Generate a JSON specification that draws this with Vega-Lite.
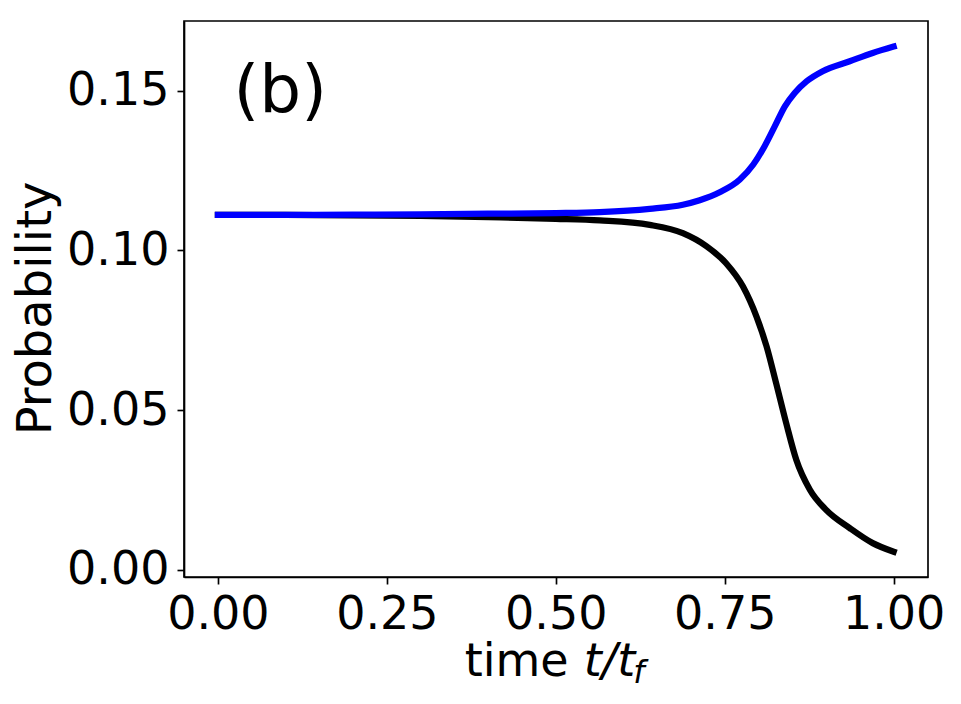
{
  "$schema": "https://vega.github.io/schema/vega-lite/v6.json",
  "autosize": {"type": "none"},
  "padding": {"left": 184, "top": 21, "right": 33, "bottom": 127},
  "width": 744,
  "height": 556,
  "background": "white",
  "config": {
    "view": {"stroke": "black", "strokeWidth": 1.67},
    "font": "DejaVu Sans",
    "axis": {
      "grid": false,
      "domainColor": "black",
      "domainWidth": 1.67,
      "tickColor": "black",
      "tickWidth": 1.67,
      "tickSize": 7,
      "labelFont": "DejaVu Sans",
      "labelFontSize": 46,
      "labelColor": "black",
      "labelPadding": 8,
      "titleFont": "DejaVu Sans",
      "titleFontWeight": "normal",
      "titleColor": "black"
    }
  },
  "datasets": {
    "curves": [
      {"t": 0.0, "p": 0.1111, "s": "black"},
      {"t": 0.1, "p": 0.1111, "s": "black"},
      {"t": 0.2, "p": 0.1110, "s": "black"},
      {"t": 0.3, "p": 0.1108, "s": "black"},
      {"t": 0.4, "p": 0.1104, "s": "black"},
      {"t": 0.5, "p": 0.1099, "s": "black"},
      {"t": 0.565, "p": 0.1094, "s": "black"},
      {"t": 0.639, "p": 0.1080, "s": "black"},
      {"t": 0.688, "p": 0.1054, "s": "black"},
      {"t": 0.723, "p": 0.1013, "s": "black"},
      {"t": 0.752, "p": 0.0960, "s": "black"},
      {"t": 0.777, "p": 0.0887, "s": "black"},
      {"t": 0.797, "p": 0.0793, "s": "black"},
      {"t": 0.812, "p": 0.0699, "s": "black"},
      {"t": 0.826, "p": 0.0585, "s": "black"},
      {"t": 0.841, "p": 0.0459, "s": "black"},
      {"t": 0.856, "p": 0.0344, "s": "black"},
      {"t": 0.876, "p": 0.0251, "s": "black"},
      {"t": 0.900, "p": 0.0188, "s": "black"},
      {"t": 0.935, "p": 0.0131, "s": "black"},
      {"t": 0.969, "p": 0.0084, "s": "black"},
      {"t": 1.0, "p": 0.0057, "s": "black"},
      {"t": 0.0, "p": 0.1111, "s": "blue"},
      {"t": 0.1, "p": 0.1111, "s": "blue"},
      {"t": 0.2, "p": 0.1112, "s": "blue"},
      {"t": 0.3, "p": 0.1113, "s": "blue"},
      {"t": 0.4, "p": 0.1115, "s": "blue"},
      {"t": 0.5, "p": 0.1117, "s": "blue"},
      {"t": 0.565, "p": 0.1120, "s": "blue"},
      {"t": 0.639, "p": 0.1130, "s": "blue"},
      {"t": 0.688, "p": 0.1143, "s": "blue"},
      {"t": 0.713, "p": 0.1157, "s": "blue"},
      {"t": 0.7425, "p": 0.1182, "s": "blue"},
      {"t": 0.772, "p": 0.1221, "s": "blue"},
      {"t": 0.792, "p": 0.1268, "s": "blue"},
      {"t": 0.809, "p": 0.1326, "s": "blue"},
      {"t": 0.824, "p": 0.1388, "s": "blue"},
      {"t": 0.839, "p": 0.1451, "s": "blue"},
      {"t": 0.8535, "p": 0.1493, "s": "blue"},
      {"t": 0.871, "p": 0.1529, "s": "blue"},
      {"t": 0.895, "p": 0.1561, "s": "blue"},
      {"t": 0.935, "p": 0.1592, "s": "blue"},
      {"t": 0.969, "p": 0.1618, "s": "blue"},
      {"t": 1.0, "p": 0.1638, "s": "blue"}
    ],
    "labels": [
      {"label": "(b)", "role": "panel"},
      {"label": "time", "role": "title1"},
      {"label": "t/t", "role": "title2"},
      {"label": "f", "role": "title3"}
    ]
  },
  "layer": [
    {
      "data": {"name": "curves"},
      "transform": [{"filter": "datum.s === 'black'"}],
      "mark": {"type": "line", "color": "#000000", "strokeWidth": 6.25, "strokeCap": "square", "strokeJoin": "round", "interpolate": "monotone"},
      "encoding": {
        "x": {
          "field": "t", "type": "quantitative",
          "scale": {"domain": [-0.0502, 1.0508], "nice": false, "zero": false},
          "axis": {"values": [0, 0.25, 0.5, 0.75, 1], "format": ".2f", "title": null}
        },
        "y": {
          "field": "p", "type": "quantitative",
          "scale": {"domain": [-0.0022, 0.1718], "nice": false, "zero": false},
          "axis": {
            "values": [0, 0.05, 0.1, 0.15], "format": ".2f",
            "title": "Probability", "titleFontSize": 48,
            "titleAngle": -90, "titleBaseline": "alphabetic", "titleAlign": "center",
            "titleX": -134, "titleY": 287
          }
        }
      }
    },
    {
      "data": {"name": "curves"},
      "transform": [{"filter": "datum.s === 'blue'"}],
      "mark": {"type": "line", "color": "#0000ff", "strokeWidth": 6.25, "strokeCap": "square", "strokeJoin": "round", "interpolate": "monotone"},
      "encoding": {
        "x": {"field": "t", "type": "quantitative"},
        "y": {"field": "p", "type": "quantitative"}
      }
    },
    {
      "data": {"name": "labels"},
      "transform": [{"filter": "datum.role === 'panel'"}],
      "mark": {"type": "text", "font": "DejaVu Sans", "fontSize": 66, "align": "left", "baseline": "alphabetic", "color": "black"},
      "encoding": {"text": {"field": "label"}, "x": {"datum": 0.0232, "type": "quantitative"}, "y": {"datum": 0.1434, "type": "quantitative"}}
    },
    {
      "data": {"name": "labels"},
      "transform": [{"filter": "datum.role === 'title1'"}],
      "mark": {"type": "text", "font": "DejaVu Sans", "fontSize": 46, "align": "left", "baseline": "alphabetic", "color": "black"},
      "encoding": {"text": {"field": "label"}, "x": {"datum": 0.3651, "type": "quantitative"}, "y": {"datum": -0.0332, "type": "quantitative"}}
    },
    {
      "data": {"name": "labels"},
      "transform": [{"filter": "datum.role === 'title2'"}],
      "mark": {"type": "text", "font": "DejaVu Sans", "fontStyle": "italic", "fontSize": 46, "align": "left", "baseline": "alphabetic", "color": "black"},
      "encoding": {"text": {"field": "label"}, "x": {"datum": 0.5413, "type": "quantitative"}, "y": {"datum": -0.0332, "type": "quantitative"}}
    },
    {
      "data": {"name": "labels"},
      "transform": [{"filter": "datum.role === 'title3'"}],
      "mark": {"type": "text", "font": "DejaVu Sans", "fontStyle": "italic", "fontSize": 32, "align": "left", "baseline": "alphabetic", "color": "black"},
      "encoding": {"text": {"field": "label"}, "x": {"datum": 0.6145, "type": "quantitative"}, "y": {"datum": -0.0354, "type": "quantitative"}}
    }
  ]
}
